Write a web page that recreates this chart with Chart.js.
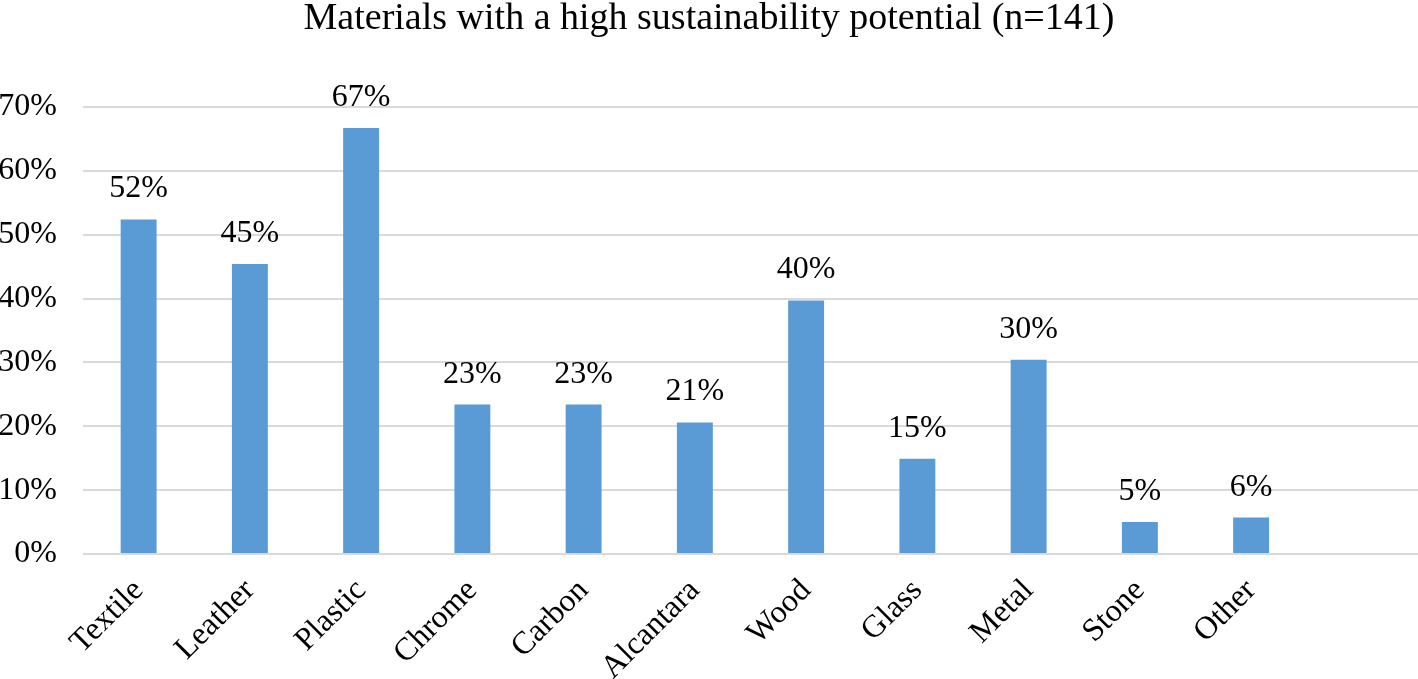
<!DOCTYPE html>
<html>
<head>
<meta charset="utf-8">
<script src="https://cdn.jsdelivr.net/npm/chart.js@4"></script>
<style>
  html, body { margin: 0; padding: 0; background: #fff; }
  #wrap { width: 1418px; height: 679px; }
</style>
</head>
<body>
<div id="wrap"><canvas id="chart"></canvas></div>
<script>
// ── data ──
const CATEGORIES = ['Textile', 'Leather', 'Plastic', 'Chrome', 'Carbon', 'Alcantara',
                    'Wood', 'Glass', 'Metal', 'Stone', 'Other', ''];
const SHARE = [52.4, 45.4, 66.7, 23.4, 23.4, 20.6, 39.7, 14.9, 30.4, 5.0, 5.7, null];
const Y_TICKS = [0, 10, 20, 30, 40, 50, 60, 70];

const FONT = "'Liberation Serif', 'Times New Roman', serif";

// value labels above bars
const barLabels = {
  id: 'barLabels',
  afterDatasetsDraw(chart) {
    const ctx = chart.ctx;
    const meta = chart.getDatasetMeta(0);
    ctx.save();
    ctx.font = '32px ' + FONT;
    ctx.fillStyle = '#000';
    ctx.textAlign = 'center';
    ctx.textBaseline = 'alphabetic';
    meta.data.forEach((bar, i) => {
      const v = SHARE[i];
      if (v == null) return;
      ctx.fillText(Math.round(v) + '%', bar.x, bar.y - 22);
    });
    ctx.restore();
  }
};

new Chart(document.getElementById('chart'), {
  type: 'bar',
  data: {
    labels: CATEGORIES,
    datasets: [{
      data: SHARE,
      backgroundColor: '#5B9BD5',
      barPercentage: 0.323,
      categoryPercentage: 1,
    }]
  },
  options: {
    responsive: true,
    maintainAspectRatio: false,
    animation: false,
    layout: { padding: 0 },
    plugins: {
      legend: { display: false },
      tooltip: { enabled: false },
      title: {
        display: true,
        text: 'Materials with a high sustainability potential (n=141)',
        color: '#000',
        font: { family: FONT, size: 38, weight: 'normal', lineHeight: 1.0 },
        padding: { top: 0, bottom: 69 }
      }
    },
    scales: {
      x: {
        grid: { display: false, drawTicks: false },
        border: { display: false },
        ticks: {
          color: '#000',
          font: { family: FONT, size: 32 },
          minRotation: 45,
          maxRotation: 45,
          padding: 18,
          autoSkip: false
        },
        afterFit: s => { s.height = 125; }
      },
      y: {
        min: 0,
        max: 70,
        afterBuildTicks: s => { s.ticks = Y_TICKS.map(v => ({ value: v })); },
        grid: { color: '#d9d9d9', lineWidth: 2, drawTicks: false },
        border: { display: false },
        ticks: {
          color: '#000',
          font: { family: FONT, size: 32 },
          padding: 26,
          callback: v => v + '%'
        },
        afterFit: s => { s.width = 83; }
      }
    }
  },
  plugins: [barLabels]
});
</script>
</body>
</html>
